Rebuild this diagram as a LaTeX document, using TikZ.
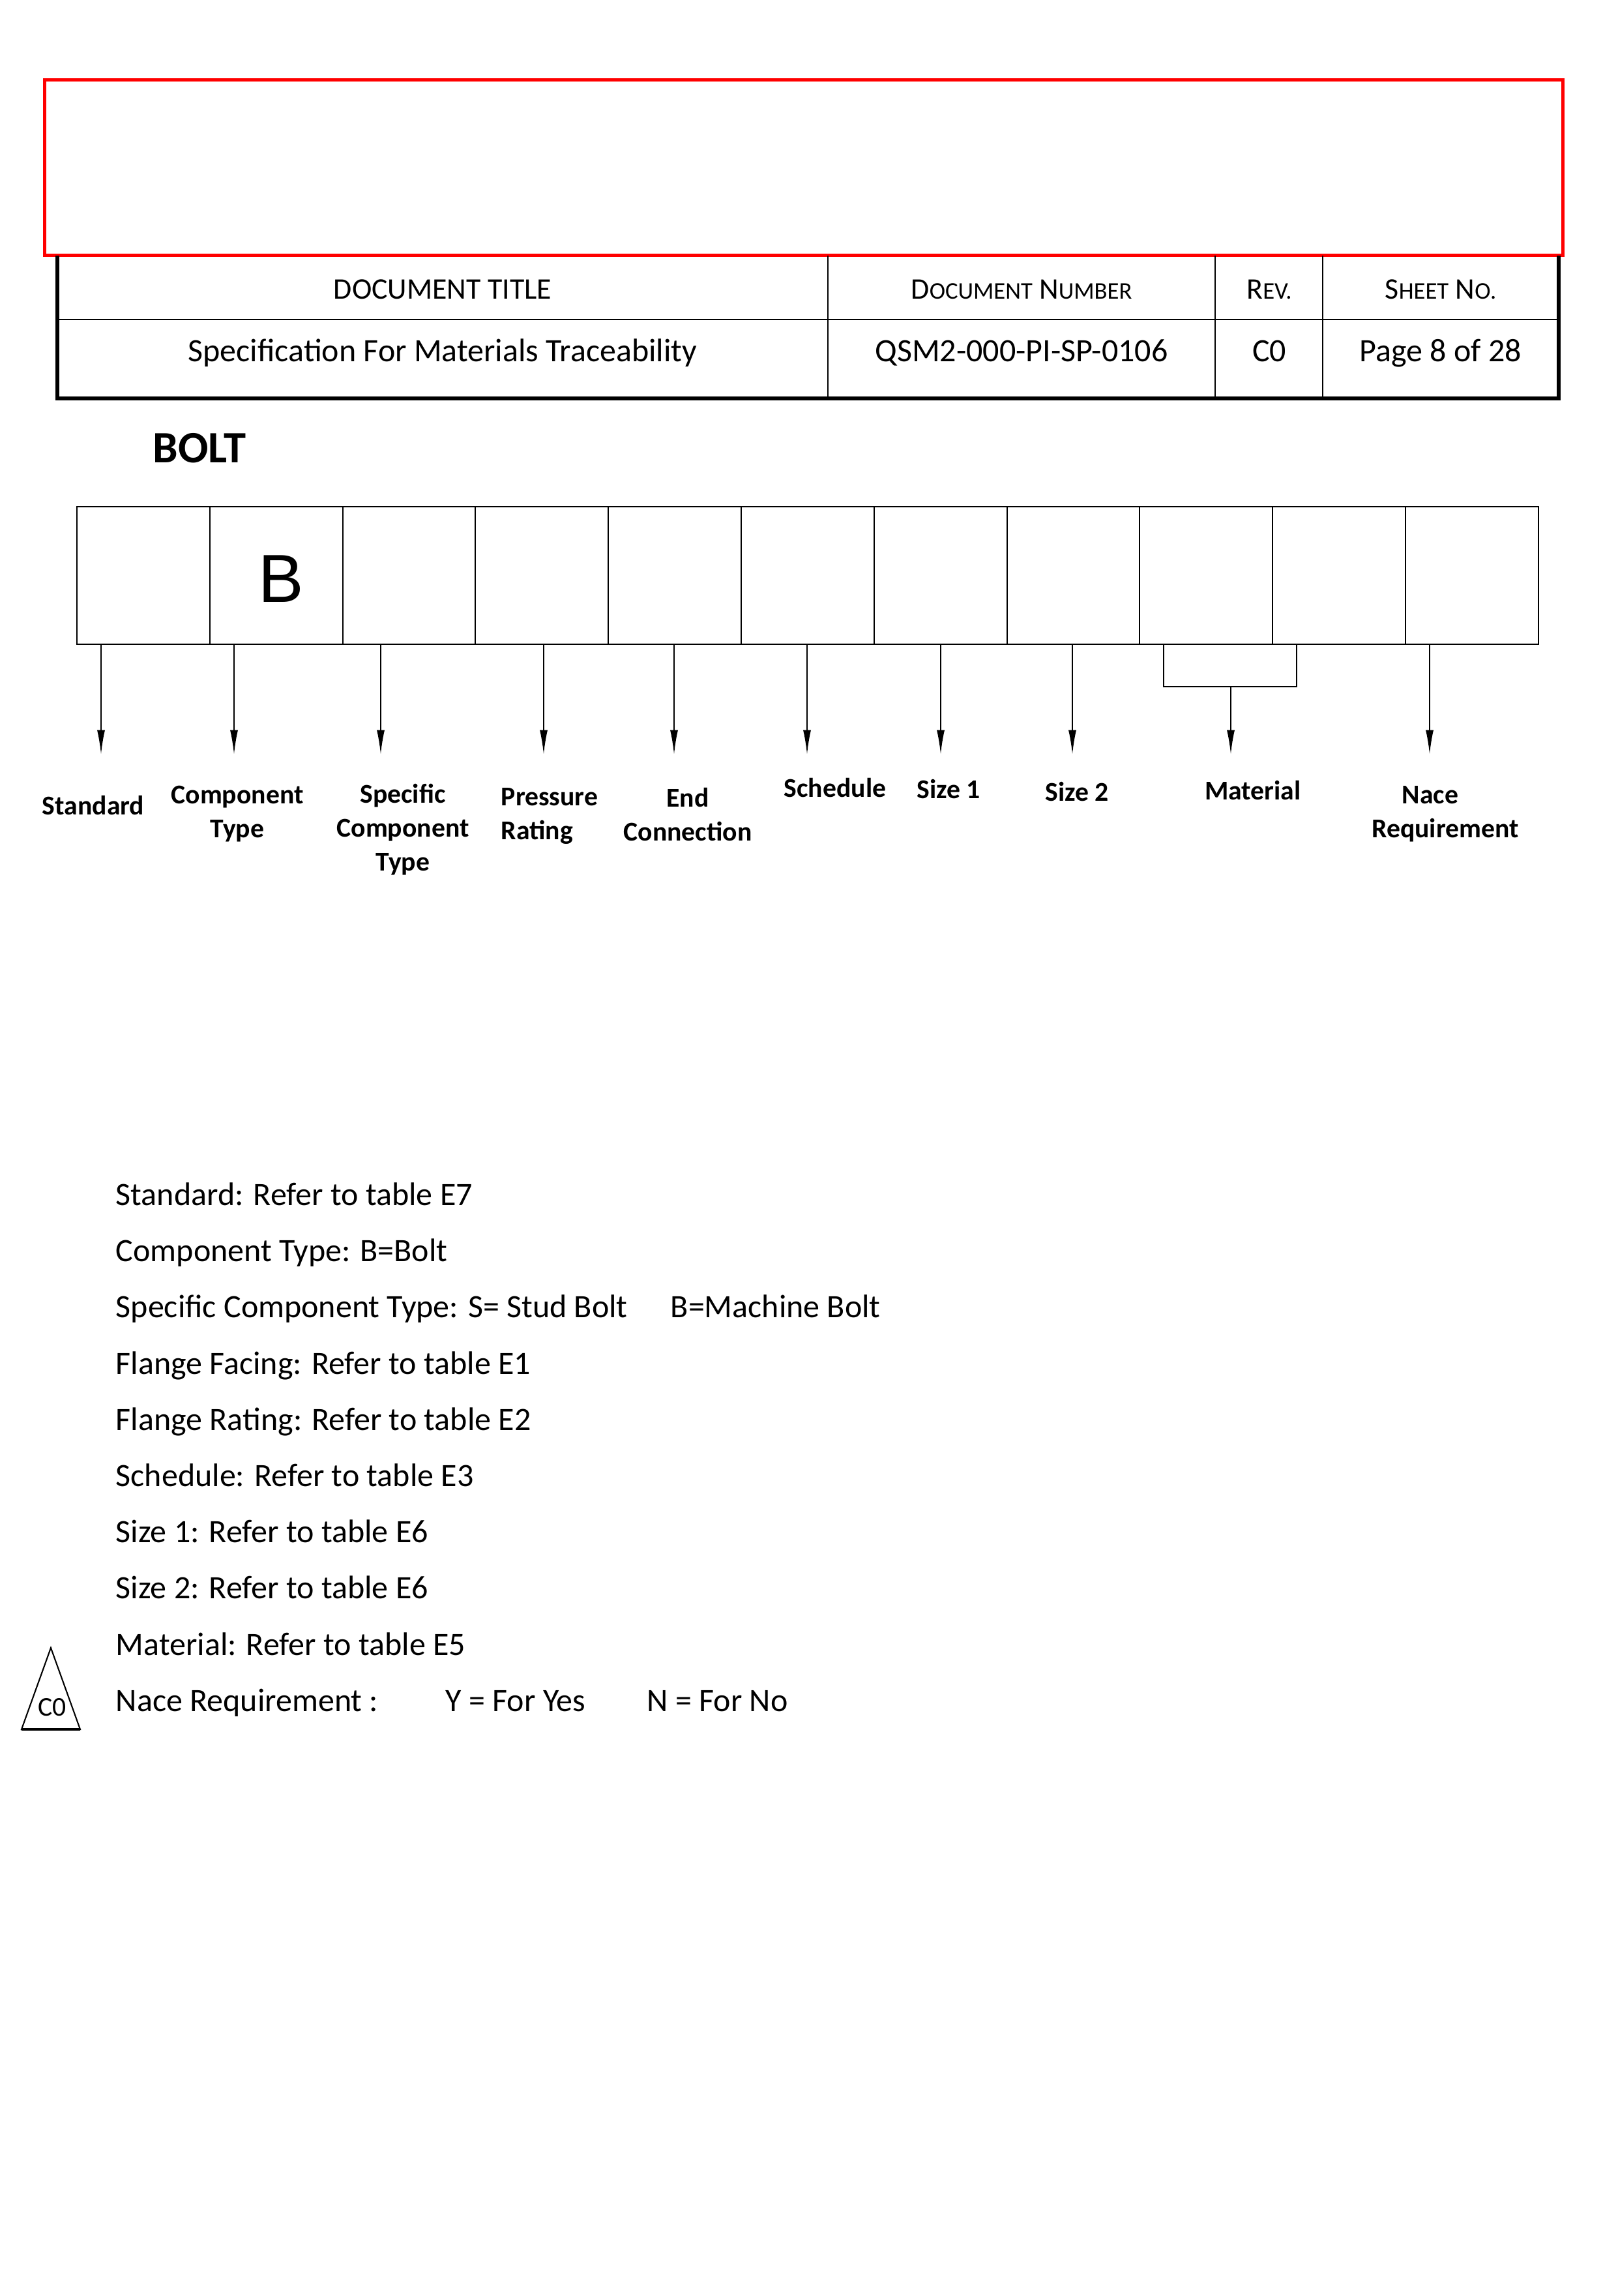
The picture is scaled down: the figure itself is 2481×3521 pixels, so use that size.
\documentclass[tikz,border=0pt]{standalone}
\usepackage{fontspec}
\setmainfont{Carlito}
\newfontfamily\arialfont{Liberation Sans}
\usetikzlibrary{arrows.meta}

\newcommand{\smc}[1]{{\fontsize{8.8}{10}\selectfont #1}}

\tikzset{
  cell/.style={draw, line width=0.5pt, minimum width=48.91pt, minimum height=50.64pt, inner sep=0pt, outer sep=0pt},
  lbl/.style={font=\fontsize{10}{12.5}\selectfont\bfseries, align=center, inner sep=0pt, anchor=north},
  txt/.style={font=\fontsize{12}{14}\selectfont, anchor=base west, inner sep=0pt},
  hd/.style={font=\fontsize{11}{13}\selectfont, anchor=base, inner sep=0pt},
  hdval/.style={font=\fontsize{12}{14}\selectfont, anchor=base, inner sep=0pt},
  arr/.style={-{Latex[length=9pt,width=2.9pt]}, line width=0.5pt},
}

\begin{document}
\begin{tikzpicture}[x=0.24pt, y=-0.24pt]
\useasboundingbox (0,0) rectangle (2481,3521);

% title block
\draw[red, line width=1.2pt] (68,123) rectangle (2397,392);
\draw[line width=0.4pt] (88,490) -- (2391,490);
\draw[line width=0.4pt] (1270,392) -- (1270,611);
\draw[line width=0.4pt] (1864,392) -- (1864,611);
\draw[line width=0.4pt] (2029,392) -- (2029,611);
\draw[line width=1.3pt] (88,392) -- (88,611) -- (2391,611) -- (2391,392);
\node[hd] (dtitle) at (679,459) {DOCUMENT TITLE};
\node[hd] (dnum) at (1567,459) {D\smc{OCUMENT} N\smc{UMBER}};
\node[hd] (drev) at (1947,459) {R\smc{EV.}};
\node[hd] (dsheet) at (2210,459) {S\smc{HEET} N\smc{O.}};
\node[hdval] (vtitle) at (679,555) {Specification For Materials Traceability};
\node[hdval] (vnum) at (1567,555) {QSM2-000-PI-SP-0106};
\node[hdval] (vrev) at (1947,555) {C0};
\node[hdval] (vsheet) at (2210,555) {Page 8 of 28};

% code boxes
\node[font=\fontsize{16.5}{19}\selectfont\bfseries, anchor=base west, inner sep=0pt] (bolt) at (234,709) {BOLT};
\foreach \i in {1,...,11}
  \node[cell] (c\i) at ({118+203.8*(\i-0.5)},882.5) {};
\node[font=\arialfont\fontsize{25}{30}\selectfont, inner sep=0pt] (bee) at (431,888) {B};

% arrows
\foreach \i/\x in {1/155, 2/359, 3/584, 4/834, 5/1034, 6/1238, 7/1443, 8/1645, 11/2193} {
  \coordinate (t\i) at (\x,1157);
  \draw[arr] (c\i.south -| t\i) -- (t\i);
}
\coordinate (mL) at (1785,1053);
\coordinate (mR) at (1989,1053);
\coordinate (mj) at (1888,1053);
\coordinate (t9) at (1888,1157);
\draw[line width=0.5pt] (c9.south -| mL) -- (mL) -- (mR) -- (c10.south -| mR);
\draw[arr] (mj) -- (t9);

% labels
\node[lbl] (lstd) at (143,1219) {Standard};
\node[lbl] (lcomp) at (364,1204) {Component\\Type};
\node[lbl] (lspec) at (618,1201) {Specific\\Component\\Type};
\node[lbl, anchor=north west, align=left] (lpres) at (768,1208) {Pressure\\Rating};
\node[lbl] (lend) at (1055,1207) {End\\Connection};
\node[lbl] (lsch) at (1281,1192) {Schedule};
\node[lbl] (lsz1) at (1455,1194) {Size 1};
\node[lbl] (lsz2) at (1652,1198) {Size 2};
\node[lbl] (lmat) at (1922,1196) {Material};
\node[lbl] (lnace) at (2217,1205) {Nace\hspace*{11pt}\\Requirement};

% notes
\node[txt] (n1) at (177,1848) {Standard: Refer to table E7};
\node[txt] (n2) at (177,1934) {Component Type: B=Bolt};
\node[txt] (n3) at (177,2020) {Specific Component Type: S= Stud Bolt};
\node[txt] (n3b) at (1028,2020) {B=Machine Bolt};
\node[txt] (n4) at (177,2107) {Flange Facing: Refer to table E1};
\node[txt] (n5) at (177,2193) {Flange Rating: Refer to table E2};
\node[txt] (n6) at (177,2279) {Schedule: Refer to table E3};
\node[txt] (n7) at (177,2365) {Size 1: Refer to table E6};
\node[txt] (n8) at (177,2451) {Size 2: Refer to table E6};
\node[txt] (n9) at (177,2538) {Material: Refer to table E5};
\node[txt] (n10) at (177,2624) {Nace Requirement :};
\node[txt] (n10y) at (683,2624) {Y = For Yes};
\node[txt] (n10n) at (992,2624) {N = For No};

% revision triangle
\draw[line width=0.5pt] (78,2527) -- (33,2652) -- (123,2652) -- cycle;
\draw[line width=1pt] (33,2652) -- (123,2652);
\node[font=\fontsize{10}{12}\selectfont, inner sep=0pt] (rev) at (80,2618) {C0};
\end{tikzpicture}
\end{document}
